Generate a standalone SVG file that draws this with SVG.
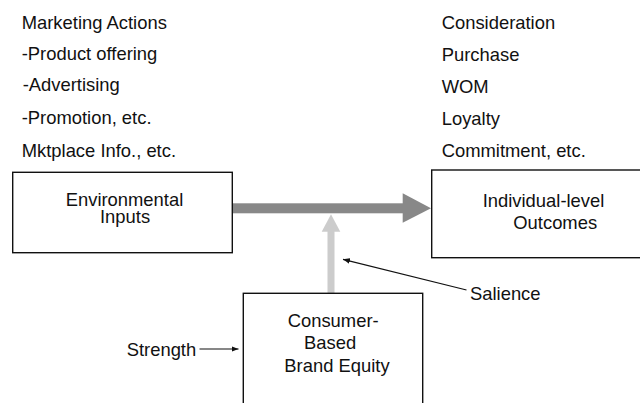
<svg xmlns="http://www.w3.org/2000/svg" width="640" height="403" viewBox="0 0 640 403">
<style>
text{font-family:"Liberation Sans",Arial,Helvetica,sans-serif;font-size:18.4px;fill:#111;}
.box{fill:#fff;stroke:#111;stroke-width:1.4;}
</style>
<defs>
<marker id="ah" viewBox="0 0 10 10" refX="10" refY="5" markerWidth="7" markerHeight="7" markerUnits="userSpaceOnUse" orient="auto"><path d="M0,1 L10,5 L0,9 Z" fill="#111"/></marker>
</defs>
<rect width="640" height="403" fill="#fff"/>
<g id="labels-left">
<text x="21.7" y="29.3">Marketing Actions</text>
<text x="21.7" y="59.5">-Product offering</text>
<text x="22.7" y="91">-Advertising</text>
<text x="21.7" y="124">-Promotion, etc.</text>
<text x="21.7" y="157">Mktplace Info., etc.</text>
</g>
<g id="labels-right">
<text x="441.7" y="29.3">Consideration</text>
<text x="441.7" y="61">Purchase</text>
<text x="441.7" y="93">WOM</text>
<text x="441.7" y="125">Loyalty</text>
<text x="441.7" y="157">Commitment, etc.</text>
</g>
<g id="connectors">
<rect x="232.5" y="203.3" width="171" height="10" fill="#888"/>
<path d="M402.7,193.3 L431,208.3 L402.7,222.7 Z" fill="#888"/>
<rect x="327.5" y="231" width="7" height="62" fill="#ccc"/>
<path d="M321.7,231.7 L331,214.3 L340.3,231.7 Z" fill="#ccc"/>
<line x1="466.5" y1="290" x2="343" y2="259.3" stroke="#111" stroke-width="1.2" marker-end="url(#ah)"/>
<line x1="199.5" y1="349" x2="238.5" y2="349" stroke="#111" stroke-width="1.2" marker-end="url(#ah)"/>
</g>
<g id="node-environmental-inputs">
<rect class="box" x="12.7" y="172.3" width="219.6" height="80.4"/>
<text x="65.7" y="205.7">Environmental</text>
<text x="100" y="223.3">Inputs</text>
</g>
<g id="node-individual-level-outcomes">
<rect class="box" x="431.7" y="170" width="212" height="87.7"/>
<text x="482.7" y="207.3">Individual-level</text>
<text x="513.3" y="229">Outcomes</text>
</g>
<g id="node-cbbe">
<rect class="box" x="243.3" y="293.3" width="179.4" height="120"/>
<text x="287.7" y="326.7">Consumer-</text>
<text x="304" y="349">Based</text>
<text x="284.3" y="371.5">Brand Equity</text>
</g>
<g id="label-salience"><text x="470" y="300">Salience</text></g>
<g id="label-strength"><text x="126.7" y="356">Strength</text></g>
</svg>
